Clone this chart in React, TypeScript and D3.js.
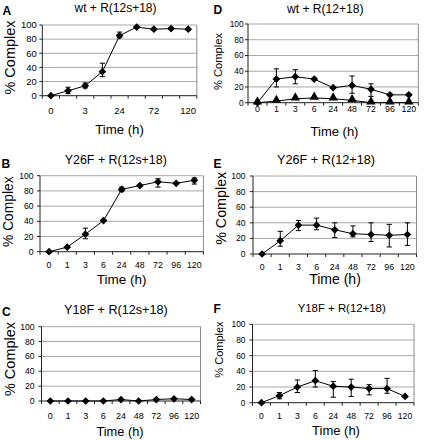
import React from "react";
import * as d3 from "d3";

const timeLabels = ["0", "1", "3", "6", "24", "48", "72", "96", "120"];
const yTicks = [0, 20, 40, 60, 80, 100];

// Panel A: wt + R(12s+18)
const aValues = [0, 7, 14, 34, 85, 97, 94, 95, 94];
const aHigh = [0, 12, 18, 46, 90, 98, 95, 96, 95];
const aLow = [0, 3, 11, 27, 82, 96, 93, 94, 93];

// Panel B: Y26F + R(12s+18)
const bValues = [0, 6, 23, 41, 82, 87, 92, 90, 94];
const bHigh = [0, 7, 31, 42, 85, 88, 96, 91, 97];
const bLow = [0, 5, 17, 40, 79, 86, 85, 89, 89];

// Panel C: Y18F + R(12s+18)
const cValues = [0, 0, 0, 0, 2, 0, 2, 3, 2];

// Panel D: wt + R(12+18), two series
const dDiamond = [0, 30, 33, 30, 19, 22, 17, 10, 10];
const dDiamondHigh = [0, 43, 42, 31, 20, 34, 24, 11, 11];
const dDiamondLow = [0, 20, 24, 29, 18, 12, 8, 9, 9];
const dTriangle = [0, 2, 5, 6, 5, 3, 0, 0, 0];

// Panel E: Y26F + R(12+18)
const eValues = [0, 17, 37, 37, 31, 26, 25, 24, 25];
const eHigh = [0, 29, 43, 46, 40, 36, 40, 38, 40];
const eLow = [0, 10, 30, 31, 21, 22, 16, 9, 11];

// Panel F: Y18F + R(12+18)
const fValues = [0, 9, 20, 28, 21, 20, 18, 18, 8];
const fHigh = [0, 13, 29, 41, 27, 30, 23, 31, 9];
const fLow = [0, 5, 13, 20, 7, 8, 10, 12, 7];

type Series = { values: number[]; high?: number[]; low?: number[]; shape: "diamond" | "triangle" };

type Panel = {
  letter: string;
  title: string;
  series: Series[];
  x0: number; x1: number; y0: number; y1: number;
  letterX: number; letterY: number;
  titleX: number; titleY: number; titleSize: number;
  ylabX: number; ylabY: number; ylabSize: number;
  xlabX: number; xlabY: number; xlabSize: number;
  xTickY: number; xTickSize: number; yTickSize: number; yTickGap: number;
  everyOther?: boolean;
};

const panels: Panel[] = [
  {
    letter: "A", title: "wt + R(12s+18)",
    series: [{ values: aValues, high: aHigh, low: aLow, shape: "diamond" }],
    x0: 42.3, x1: 196.8, y0: 25, y1: 95.7,
    letterX: 2.5, letterY: 15, titleX: 115.5, titleY: 12, titleSize: 12,
    ylabX: 14.5, ylabY: 57.5, ylabSize: 14.5,
    xlabX: 119.5, xlabY: 134, xlabSize: 13.2,
    xTickY: 114, xTickSize: 9.5, yTickSize: 9.5, yTickGap: 5.5, everyOther: true,
  },
  {
    letter: "B", title: "Y26F + R(12s+18)",
    series: [{ values: bValues, high: bHigh, low: bLow, shape: "diamond" }],
    x0: 40, x1: 203.4, y0: 175.7, y1: 251.7,
    letterX: 1.5, letterY: 168.3, titleX: 115.8, titleY: 164, titleSize: 12.4,
    ylabX: 13.3, ylabY: 211.7, ylabSize: 13.8,
    xlabX: 121.7, xlabY: 283.5, xlabSize: 13.5,
    xTickY: 268.3, xTickSize: 8.8, yTickSize: 8.6, yTickGap: 6.5,
  },
  {
    letter: "C", title: "Y18F + R(12s+18)",
    series: [{ values: cValues, shape: "diamond" }],
    x0: 41.5, x1: 200.5, y0: 326.7, y1: 401,
    letterX: 2, letterY: 316, titleX: 115.8, titleY: 314, titleSize: 12.6,
    ylabX: 15, ylabY: 359, ylabSize: 14.5,
    xlabX: 120, xlabY: 435.5, xlabSize: 12.8,
    xTickY: 419.3, xTickSize: 9, yTickSize: 8.6, yTickGap: 7,
  },
  {
    letter: "D", title: "wt + R(12+18)",
    series: [
      { values: dDiamond, high: dDiamondHigh, low: dDiamondLow, shape: "diamond" },
      { values: dTriangle, shape: "triangle" },
    ],
    x0: 248, x1: 418.3, y0: 24, y1: 102.7,
    letterX: 213.5, letterY: 14, titleX: 325.3, titleY: 13, titleSize: 12.1,
    ylabX: 222, ylabY: 61.5, ylabSize: 11.2,
    xlabX: 334.5, xlabY: 136, xlabSize: 13,
    xTickY: 111.7, xTickSize: 8.8, yTickSize: 8.4, yTickGap: 4.3,
  },
  {
    letter: "E", title: "Y26F + R(12+18)",
    series: [{ values: eValues, high: eHigh, low: eLow, shape: "diamond" }],
    x0: 253, x1: 416.5, y0: 176, y1: 254,
    letterX: 213.5, letterY: 168.3, titleX: 326, titleY: 164, titleSize: 12.7,
    ylabX: 226, ylabY: 208.3, ylabSize: 14.3,
    xlabX: 335, xlabY: 284, xlabSize: 14,
    xTickY: 269.5, xTickSize: 8.8, yTickSize: 8.6, yTickGap: 7.5,
  },
  {
    letter: "F", title: "Y18F + R(12+18)",
    series: [{ values: fValues, high: fHigh, low: fLow, shape: "diamond" }],
    x0: 252.5, x1: 414, y0: 324.3, y1: 402.7,
    letterX: 213.5, letterY: 313.3, titleX: 341.7, titleY: 312, titleSize: 11.4,
    ylabX: 223, ylabY: 349.5, ylabSize: 11,
    xlabX: 336, xlabY: 434.5, xlabSize: 13,
    xTickY: 419, xTickSize: 8.6, yTickSize: 8.4, yTickGap: 7,
  },
];

const FONT = "'Liberation Sans', Arial, Helvetica, sans-serif";

function ChartPanel({ p }: { p: Panel }) {
  const x = d3.scaleBand<string>().domain(timeLabels).range([p.x0, p.x1]).padding(0);
  const y = d3.scaleLinear().domain([0, 100]).range([p.y1, p.y0]);
  const cx = (i: number) => (x(timeLabels[i]) as number) + x.bandwidth() / 2;
  const line = d3.line<number>().x((_, i) => cx(i)).y((v) => y(v));
  const diamond = d3.symbol().type(d3.symbolSquare).size(30)();
  const triangle = d3.symbol().type(d3.symbolTriangle).size(38)();
  const boundaries = timeLabels.map((t) => x(t) as number).concat([p.x1]);
  const cap = 2.6;

  return (
    <g>
      <text x={p.letterX} y={p.letterY} fontSize={12} fontWeight="bold" fontFamily={FONT}>{p.letter}</text>
      <text x={p.titleX} y={p.titleY} fontSize={p.titleSize} textAnchor="middle" fontFamily={FONT}>{p.title}</text>
      {yTicks.filter((t) => t > 0).map((t) => (
        <line key={"g" + t} x1={p.x0} x2={p.x1} y1={y(t)} y2={y(t)} stroke="#a8a8a8" strokeWidth={1} />
      ))}
      <line x1={p.x1} x2={p.x1} y1={p.y0} y2={p.y1} stroke="#8a8a8a" strokeWidth={1} />
      <line x1={p.x0} x2={p.x0} y1={p.y0} y2={p.y1} stroke="#222" strokeWidth={1} />
      <line x1={p.x0} x2={p.x1} y1={p.y1} y2={p.y1} stroke="#222" strokeWidth={1} />
      {yTicks.map((t) => (
        <g key={"yt" + t}>
          <line x1={p.x0 - 3} x2={p.x0} y1={y(t)} y2={y(t)} stroke="#222" strokeWidth={1} />
          <text x={p.x0 - p.yTickGap} y={y(t)} dy="0.35em" textAnchor="end" fontSize={p.yTickSize} fontFamily={FONT}>{t}</text>
        </g>
      ))}
      {boundaries.map((b, i) => (
        <line key={"xt" + i} x1={b} x2={b} y1={p.y1} y2={p.y1 + 3} stroke="#222" strokeWidth={1} />
      ))}
      {timeLabels.map((t, i) =>
        p.everyOther && i % 2 === 1 ? null : (
          <text key={"xl" + t} x={cx(i)} y={p.xTickY} textAnchor="middle" fontSize={p.xTickSize} fontFamily={FONT}>{t}</text>
        )
      )}
      <text x={p.xlabX} y={p.xlabY} textAnchor="middle" fontSize={p.xlabSize} fontFamily={FONT}>Time (h)</text>
      <text transform={`translate(${p.ylabX},${p.ylabY}) rotate(-90)`} textAnchor="middle" fontSize={p.ylabSize} fontFamily={FONT}>% Complex</text>
      {p.series.map((s, si) => (
        <g key={"s" + si}>
          <path d={line(s.values) || ""} fill="none" stroke="#000" strokeWidth={1} />
          {s.high && s.low && s.values.map((v, i) => (
            <g key={"e" + i} stroke="#000" strokeWidth={1}>
              <line x1={cx(i)} x2={cx(i)} y1={y(s.high![i])} y2={y(s.low![i])} />
              <line x1={cx(i) - cap} x2={cx(i) + cap} y1={y(s.high![i])} y2={y(s.high![i])} />
              <line x1={cx(i) - cap} x2={cx(i) + cap} y1={y(s.low![i])} y2={y(s.low![i])} />
            </g>
          ))}
          {s.values.map((v, i) => (
            <path
              key={"m" + i}
              d={s.shape === "diamond" ? diamond! : triangle!}
              transform={`translate(${cx(i)},${y(v) + (s.shape === "triangle" ? -1 : 0)})${s.shape === "diamond" ? " rotate(45)" : ""}`}
              fill="#000"
            />
          ))}
        </g>
      ))}
    </g>
  );
}

export default function App() {
  return (
    <svg width={424} height={440} style={{ position: "absolute", left: 0, top: 0, background: "#fff" }}>
      <rect width={424} height={440} fill="#fff" />
      {panels.map((p) => (
        <ChartPanel key={p.letter} p={p} />
      ))}
    </svg>
  );
}
